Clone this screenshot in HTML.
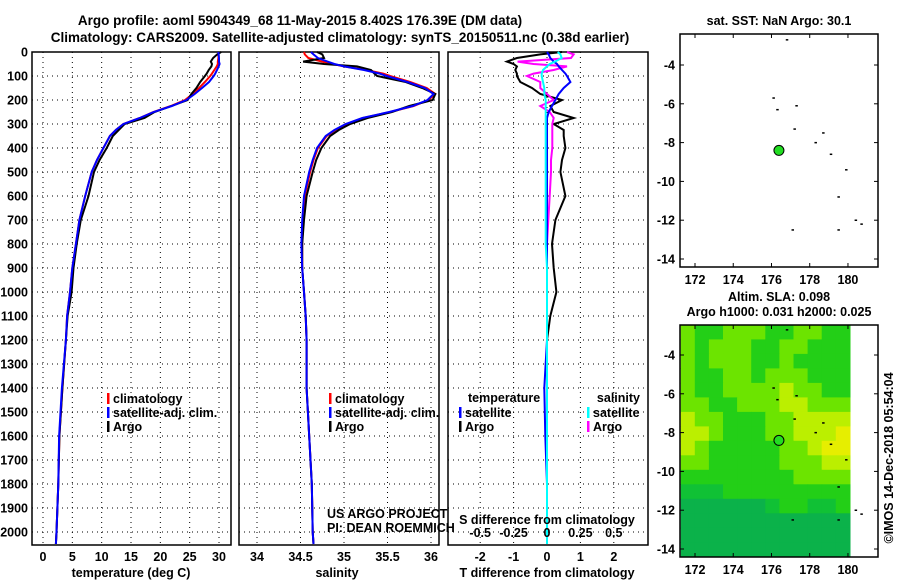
<!DOCTYPE html>
<html><head><meta charset="utf-8">
<style>
html,body{margin:0;padding:0;background:#fff;}
svg{display:block;font-family:"Liberation Sans",sans-serif;}
.b{font-weight:bold;font-size:12.5px;}
</style></head>
<body>
<svg id="chart" width="900" height="580" viewBox="0 0 900 580" xmlns="http://www.w3.org/2000/svg">
<text x="300" y="25" text-anchor="middle" class="b" style="font-size:13.5px">Argo profile: aoml 5904349_68 11-May-2015 8.402S 176.39E (DM data)</text>
<text x="340" y="42" text-anchor="middle" class="b" style="font-size:13.5px">Climatology: CARS2009. Satellite-adjusted climatology: synTS_20150511.nc (0.38d earlier)</text>
<g id="g"></g>
</svg>
<script>
// ---- data ----
const depths = [0,10,25,40,50,60,75,90,100,125,150,175,200,225,250,275,300,325,350,400,450,500,600,700,800,900,1000,1100,1200,1400,1600,1800,2000,2050];
const tempClim = [29.9,29.9,29.9,29.8,29.8,29.6,29.2,28.8,28.5,27.6,26.6,25.5,24.2,21.8,18.8,16.5,13.7,12.4,11.4,10.3,9.2,8.3,7.2,6.2,5.6,5.0,4.6,4.1,3.9,3.3,2.8,2.6,2.3,2.2];
const tempSatDiff = [0,0.05,0.1,0.2,0.3,0.35,0.45,0.55,0.6,0.7,0.5,0.35,0.25,0.15,0.05,0,0,0,0,0,0,0,0,0,0,0,0,0,0,-0.08,-0.05,0,0,0];
const tempArgoDiff = [0.45,-0.2,-0.9,-1.2,-1.0,-0.9,-0.95,-0.9,-0.9,-0.8,-0.45,-0.2,0.45,0.1,0.2,0.8,0.2,0.5,0.5,0.55,0.45,0.4,0.55,0.25,0.15,0.2,0.28,0.1,0,0,0,0,0,0];
const salClim = [34.54,34.55,34.59,34.75,34.87,35.0,35.26,35.45,35.53,35.76,35.95,36.05,35.97,35.8,35.53,35.22,35.03,34.9,34.8,34.7,34.65,34.61,34.55,34.53,34.52,34.52,34.54,34.56,34.57,34.57,34.6,34.63,34.64,34.65];
const salSatDiff = [0.08,0.1,0.11,0.06,0.02,0,-0.03,-0.04,-0.04,-0.03,-0.02,-0.02,-0.01,-0.01,-0.01,-0.01,-0.01,-0.01,-0.01,-0.01,-0.01,-0.01,-0.01,-0.01,-0.01,0,0,0,0,0,0,0,0,0];
const salArgoDiff = [0.15,0.2,0.18,-0.22,-0.1,0.15,0.05,-0.1,-0.15,-0.05,-0.05,0,0.05,-0.05,0.02,0.05,0.04,0.04,0.04,0.04,0.03,0.03,0.02,0.01,0,0,0,0,0,0,0,0,0,0];
const depthTicks = [0,100,200,300,400,500,600,700,800,900,1000,1100,1200,1300,1400,1500,1600,1700,1800,1900,2000];
const tempTicks = [0,5,10,15,20,25,30];
const salTicks = [34,34.5,35,35.5,36];
const dTTicks = [-2,-1,0,1,2];
const dSTicks = [-0.5,-0.25,0,0.25,0.5];
const dSTickLabels = ["-0.5","-0.25","0","0.25","0.5"];
const lonTicks = [172,174,176,178,180];
const latTicks = [-4,-6,-8,-10,-12,-14];
const floatLon = 176.39, floatLat = -8.402;
const islandLon = [176.8,176.1,176.3,177.3,177.2,178.7,178.3,179.1,179.9,179.5,180.4,180.7,177.1,179.5];
const islandLat = [-2.7,-5.7,-6.3,-6.1,-7.3,-7.5,-8.0,-8.6,-9.4,-10.8,-12.0,-12.2,-12.5,-12.5];
// SLA field (0 dark green .. 4 yellow), 12 cols x 16 rows, west->east, north->south
const slaGrid = [
[2,1,1,2,2,2,1,1,2,2,1,1],
[2,1,2,2,2,1,1,2,2,1,1,1],
[2,1,2,2,2,1,1,2,1,1,1,1],
[2,1,1,2,2,1,2,2,2,1,1,1],
[2,1,1,2,2,2,2,3,2,2,1,1],
[2,2,1,1,2,2,2,3,3,2,2,2],
[3,2,2,1,1,1,2,2,3,3,3,3],
[3,3,2,1,1,1,2,2,3,3,3,4],
[3,2,1,1,1,1,1,2,2,3,4,4],
[2,2,1,1,1,1,1,2,2,2,3,3],
[1,1,1,1,1,1,1,1,2,2,2,2],
[0.5,0.5,0.5,1,1,1,1,1,1,1,1,1],
[0,0,0,0,0,0,0.5,1,1,0.5,0.5,1],
[0,0,0,0,0,0,0,0,0,0,0,0],
[0,0,0,0,0,0,0,0,0,0,0,0],
[0,0,0,0,0,0,0,0,0,0,0,0]];
// ---- helpers ----
const NS="http://www.w3.org/2000/svg";
const G=document.getElementById('g');
function mk(tag,attrs,parent){const e=document.createElementNS(NS,tag);for(const k in attrs)e.setAttribute(k,attrs[k]);(parent||G).appendChild(e);return e;}
function txt(x,y,s,anchor,cls,parent){const t=mk('text',{x:x,y:y,'text-anchor':anchor||'middle','class':cls||'b'},parent);t.textContent=s;return t;}
const Y0=52, PB=545;
const yD=d=>Y0+d*0.24;
const xT=t=>43+t*5.867;
const xS=s=>257+(s-34)*87;
const xDT=v=>547+v*33.4;
const xDS=v=>547+v*133.6;
function panel(name,x1,x2,xgrid){
  const g=mk('g',{});
  
  
  depthTicks.forEach(d=>{const y=yD(d);mk('line',{x1:x1,x2:x2,y1:y,y2:y,stroke:'#000','stroke-width':1,'stroke-dasharray':'1,4'},g);});
  xgrid.forEach(x=>mk('line',{x1:x,x2:x,y1:Y0,y2:PB,stroke:'#000','stroke-width':1,'stroke-dasharray':'1,4'},g));
  mk('rect',{x:x1,y:Y0,width:x2-x1,height:PB-Y0,fill:'none',stroke:'#000','stroke-width':1.5},g);
  return g;
}
function line(g,xs,ys,color,name){
  const p=mk('polyline',{points:xs.map((x,i)=>x.toFixed(1)+','+ys[i].toFixed(1)).join(' '),fill:'none',stroke:color,'stroke-width':2},g);
  
  
}
const ys=depths.map(yD);
// depth labels
depthTicks.forEach(d=>{const t=txt(28,yD(d)+4.5,String(d),'end');});
// panel 1 temperature
const p1=panel('temperature-panel',32,231,tempTicks.map(xT));
tempTicks.forEach(t=>{const e=txt(xT(t),561,String(t));});
line(p1,tempClim.map(xT),ys,'#f00','temp-climatology-line');
line(p1,tempClim.map((v,i)=>xT(v+tempArgoDiff[i])),ys,'#000','temp-argo-line');
line(p1,tempClim.map((v,i)=>xT(v+tempSatDiff[i])),ys,'#00f','temp-satellite-line');
txt(131,577,'temperature (deg C)');
// panel 2 salinity
const p2=panel('salinity-panel',239,439,salTicks.map(xS));
salTicks.forEach(s=>{const e=txt(xS(s),561,String(s));});
line(p2,salClim.map(xS),ys,'#f00','sal-climatology-line');
line(p2,salClim.map((v,i)=>xS(v+salArgoDiff[i])),ys,'#000','sal-argo-line');
line(p2,salClim.map((v,i)=>xS(v+salSatDiff[i])),ys,'#00f','sal-satellite-line');
txt(337,577,'salinity');
txt(327,518,'US ARGO PROJECT','start','').setAttribute('style','font-size:12.5px');
txt(327,532,'PI: DEAN ROEMMICH','start','').setAttribute('style','font-size:12.5px');
// legends
function legend(x,y,color,label,anchor){
  mk('rect',{x:x-1,y:y-10,width:2.5,height:11,fill:color});
  const t=txt(anchor==='end'?x-4:x+5,y,label,anchor||'start');
  
}
[['#f00','climatology'],['#00f','satellite-adj. clim.'],['#000','Argo']].forEach((e,i)=>{legend(108,403+i*14,e[0],e[1]);legend(330,403+i*14,e[0],e[1]);});
// panel 3 differences
const p3=panel('difference-panel',448,648,dTTicks.map(xDT));
dTTicks.forEach(t=>{const e=txt(xDT(t),561,String(t));});
dSTicks.forEach((s,i)=>{const e=txt(xDS(s),537,dSTickLabels[i]);});
txt(547,524,'S difference from climatology');
txt(547,577,'T difference from climatology');
line(p3,tempArgoDiff.map(xDT),ys,'#000','dT-argo-line');
line(p3,salArgoDiff.map(xDS),ys,'#f0f','dS-argo-line');
line(p3,tempSatDiff.map(xDT),ys,'#00f','dT-satellite-line');
line(p3,salSatDiff.map(xDS),ys,'#0ff','dS-satellite-line');
txt(468,402,'temperature','start');
txt(640,402,'salinity','end');
legend(460,417,'#00f','satellite');legend(460,431,'#000','Argo');
legend(588,417,'#0ff','satellite');legend(588,431,'#f0f','Argo');
// ---- maps ----
const xL=lon=>695+(lon-172)*19.12;
const yL=(top,lat)=>top+(lat-(-4))*(-19.4);
function mapFrame(name,bx,by,bw,bh,latTop){
  const g=mk('g',{});
  
  
  return g;
}
function mapAxes(g,by,bh,lat4y){
  mk('rect',{x:680,y:by,width:198,height:bh,fill:'none',stroke:'#000','stroke-width':1.5},g);
  lonTicks.forEach(l=>{const x=xL(l);mk('line',{x1:x,x2:x,y1:by,y2:by+4,stroke:'#000'},g);mk('line',{x1:x,x2:x,y1:by+bh,y2:by+bh-4,stroke:'#000'},g);
    const t=txt(x,by+bh+17,String(l));});
  latTicks.forEach(l=>{const y=lat4y+(l+4)*(-19.4);mk('line',{x1:680,x2:684,y1:y,y2:y,stroke:'#000'},g);mk('line',{x1:878,x2:874,y1:y,y2:y,stroke:'#000'},g);
    const t=txt(675,y+4.5,String(l),'end');});
}
function islands(g,lat4y){
  islandLon.forEach((lo,i)=>{const r=mk('rect',{x:xL(lo)-1,y:lat4y+(islandLat[i]+4)*(-19.4)-0.7,width:2.5,height:1.5,fill:'#000'},g);
    });
}
function floatDot(g,lat4y){
  const c=mk('circle',{cx:xL(floatLon),cy:lat4y+(floatLat+4)*(-19.4),r:5,fill:'#22dd22',stroke:'#000','stroke-width':1},g);
  
}
// map 1
const m1=mapFrame('sst-map');
txt(779,25,'sat. SST: NaN Argo: 30.1');
mapAxes(m1,34,233,65);islands(m1,65);floatDot(m1,65);
// map 2
const m2=mapFrame('sla-map');
txt(779,301,'Altim. SLA: 0.098');
txt(779,316,'Argo h1000: 0.031 h2000: 0.025');
const cols=['#0bb24a','#12c62e','#33d800','#6ce400','#a6ee00','#cfef00','#e6ee00'];
function slaColor(v){const f=v*1.5;const i=Math.min(5,Math.floor(f));const t=f-i;
  const a=cols[i],b=cols[i+1];const h=(s,k)=>parseInt(s.substr(k,2),16);
  const m=k=>Math.round(h(a,k)+(h(b,k)-h(a,k))*t);return 'rgb('+m(1)+','+m(3)+','+m(5)+')';}
const lon0=171.25, dlon=(180.1-171.25)/12, lat0=-2.45, dlat=(14.4-2.45)/16;
slaGrid.forEach((row,r)=>row.forEach((v,c)=>{
  const x=xL(lon0+c*dlon), x2=xL(lon0+(c+1)*dlon);
  const y=355+(lat0-r*dlat+4)*(-19.4), y2=355+(lat0-(r+1)*dlat+4)*(-19.4);
  const e=mk('rect',{x:x.toFixed(1),y:y.toFixed(1),width:(x2-x+0.6).toFixed(1),height:(y2-y+0.6).toFixed(1),fill:slaColor(v)},m2);
  
}));
mapAxes(m2,325,232,355);islands(m2,355);floatDot(m2,355);
const cr=txt(0,0,'\u00A9IMOS 14-Dec-2018 05:54:04','middle','');
cr.setAttribute('transform','translate(893,458) rotate(-90)');
cr.setAttribute('style','font-size:12.5px');


</script>
</body></html>
